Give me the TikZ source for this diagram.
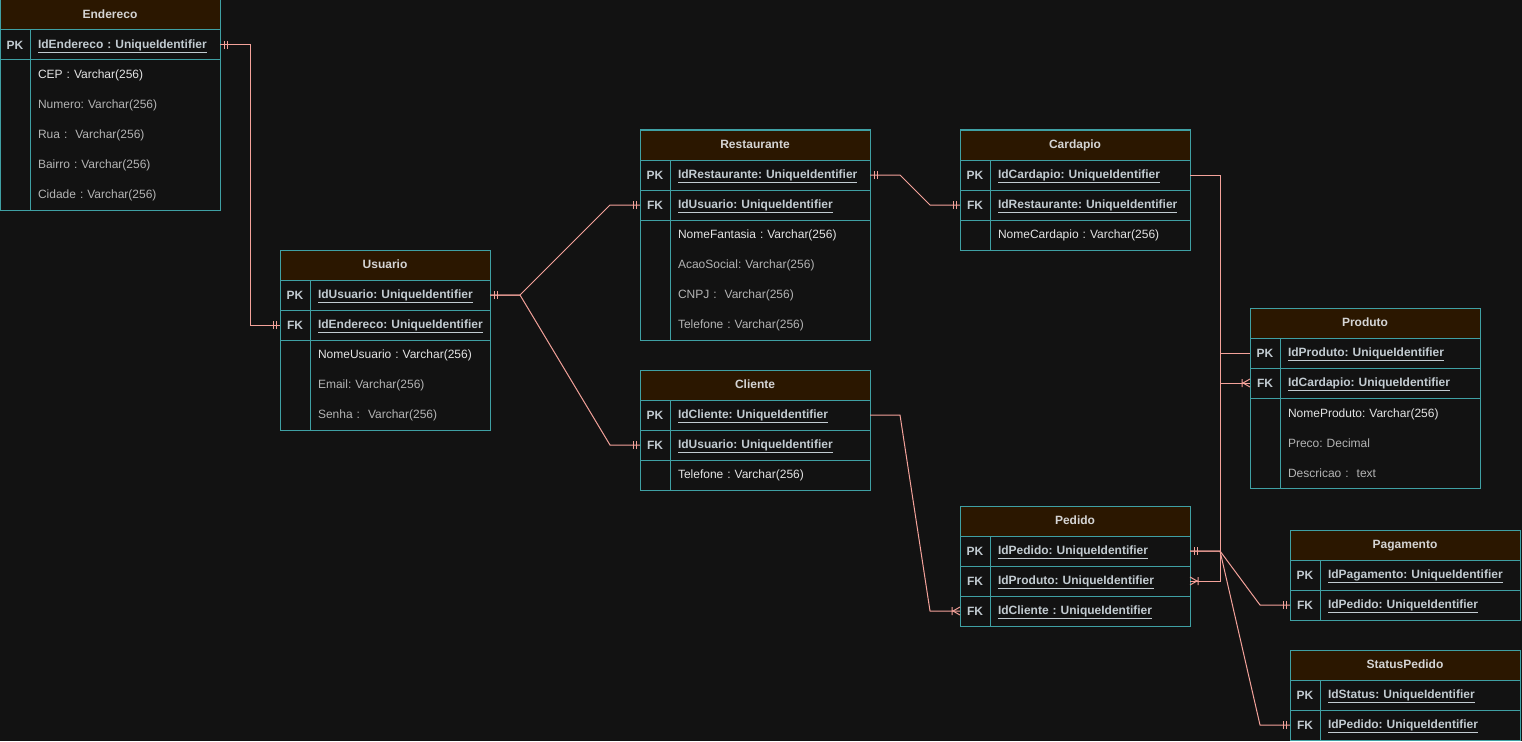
\documentclass[tikz,border=0pt,12pt]{standalone}
\usepackage{fontspec}
\setmainfont{Liberation Sans}
\usetikzlibrary{positioning}
\frenchspacing

\definecolor{bg}{HTML}{121212}
\definecolor{tableline}{HTML}{3FA0A4}
\definecolor{headfill}{HTML}{2B1700}
\definecolor{headtext}{HTML}{D4D4D4}
\definecolor{keytext}{HTML}{C2CBD1}
\definecolor{fieldtext}{HTML}{B4B4B4}
\definecolor{firsttext}{HTML}{E4E4E4}
\definecolor{relline}{HTML}{F4A29A}

% mandatory one: two bars
\pgfdeclarearrow{
  name = ERone,
  setup code = {
    \pgfarrowssettipend{0pt}
    \pgfarrowssetlineend{0pt}
    \pgfarrowssetbackend{-8pt}
  },
  drawing code = {
    \pgfpathmoveto{\pgfpoint{-4pt}{-4pt}}
    \pgfpathlineto{\pgfpoint{-4pt}{4pt}}
    \pgfpathmoveto{\pgfpoint{-7pt}{-4pt}}
    \pgfpathlineto{\pgfpoint{-7pt}{4pt}}
    \pgfusepathqstroke
  }
}
% one or many: bar and crow's foot
\pgfdeclarearrow{
  name = ERmany,
  setup code = {
    \pgfarrowssettipend{0pt}
    \pgfarrowssetlineend{0pt}
    \pgfarrowssetbackend{-9pt}
  },
  drawing code = {
    \pgfpathmoveto{\pgfpoint{-8pt}{-4pt}}
    \pgfpathlineto{\pgfpoint{-8pt}{4pt}}
    \pgfpathmoveto{\pgfpoint{0pt}{4pt}}
    \pgfpathlineto{\pgfpoint{-7pt}{0pt}}
    \pgfpathlineto{\pgfpoint{0pt}{-4pt}}
    \pgfusepathqstroke
  }
}

\begin{document}
\begin{tikzpicture}[x = 1pt, y = -1pt, line width = 1pt, node distance = 0pt,
    every node/.style = {draw = tableline, inner sep = 0pt, outer sep = 0pt, minimum height = 30pt},
    tablehead/.style = {anchor = north west, fill = headfill, text = headtext, font = \bfseries, text height = 9pt, text depth = 2pt},
    keycell/.style = {minimum width = 30pt, text = keytext, font = \bfseries},
    fieldcell/.style = {inner xsep = 8pt, text width = #1, align = left, text = fieldtext},
    keyfield/.style = {fieldcell = #1, text = keytext, font = \bfseries, text height = 9pt, text depth = 2pt},
    bodycell/.style = {fieldcell = #1, font = \fontsize{12}{30}\selectfont},
    relation/.style = {draw = relline}]
    \useasboundingbox[fill = bg] (0,0) rectangle (1522,741);

    % Endereco
    \node[tablehead, minimum width = 220pt] (endereco) at (0,0) {Endereco};
    \node[keycell, below right = of endereco.south west] (endereco-pk) {PK};
    \node[keyfield = 174pt, right = of endereco-pk] (endereco-id) {\underline{IdEndereco : UniqueIdentifier}};
    \node[keycell, minimum height = 150pt, below = of endereco-pk] (endereco-bk) {};
    \node[bodycell = 174pt, minimum height = 150pt, right = of endereco-bk] (endereco-body)
        {\textcolor{firsttext}{CEP : Varchar(256)}\\Numero: Varchar(256)\\Rua :~ Varchar(256)\\Bairro : Varchar(256)\\Cidade : Varchar(256)};

    % Usuario
    \node[tablehead, minimum width = 210pt] (usuario) at (280,250) {Usuario};
    \node[keycell, below right = of usuario.south west] (usuario-pk) {PK};
    \node[keyfield = 164pt, right = of usuario-pk] (usuario-id) {\underline{IdUsuario: UniqueIdentifier}};
    \node[keycell, below = of usuario-pk] (usuario-fk) {FK};
    \node[keyfield = 164pt, right = of usuario-fk] (usuario-ref) {\underline{IdEndereco: UniqueIdentifier}};
    \node[keycell, minimum height = 90pt, below = of usuario-fk] (usuario-bk) {};
    \node[bodycell = 164pt, minimum height = 90pt, right = of usuario-bk] (usuario-body)
        {\textcolor{firsttext}{NomeUsuario : Varchar(256)}\\Email: Varchar(256)\\Senha :~ Varchar(256)};

    % Restaurante
    \node[tablehead, minimum width = 230pt] (restaurante) at (640,130) {Restaurante};
    \node[keycell, below right = of restaurante.south west] (restaurante-pk) {PK};
    \node[keyfield = 184pt, right = of restaurante-pk] (restaurante-id) {\underline{IdRestaurante: UniqueIdentifier}};
    \node[keycell, below = of restaurante-pk] (restaurante-fk) {FK};
    \node[keyfield = 184pt, right = of restaurante-fk] (restaurante-ref) {\underline{IdUsuario: UniqueIdentifier}};
    \node[keycell, minimum height = 120pt, below = of restaurante-fk] (restaurante-bk) {};
    \node[bodycell = 184pt, minimum height = 120pt, right = of restaurante-bk] (restaurante-body)
        {\textcolor{firsttext}{NomeFantasia : Varchar(256)}\\AcaoSocial: Varchar(256)\\CNPJ :~ Varchar(256)\\Telefone : Varchar(256)};

    % Cardapio
    \node[tablehead, minimum width = 230pt] (cardapio) at (960,130) {Cardapio};
    \node[keycell, below right = of cardapio.south west] (cardapio-pk) {PK};
    \node[keyfield = 184pt, right = of cardapio-pk] (cardapio-id) {\underline{IdCardapio: UniqueIdentifier}};
    \node[keycell, below = of cardapio-pk] (cardapio-fk) {FK};
    \node[keyfield = 184pt, right = of cardapio-fk] (cardapio-ref) {\underline{IdRestaurante: UniqueIdentifier}};
    \node[keycell, below = of cardapio-fk] (cardapio-bk) {};
    \node[bodycell = 184pt, right = of cardapio-bk] (cardapio-body) {\textcolor{firsttext}{NomeCardapio : Varchar(256)}};

    % Cliente
    \node[tablehead, minimum width = 230pt] (cliente) at (640,370) {Cliente};
    \node[keycell, below right = of cliente.south west] (cliente-pk) {PK};
    \node[keyfield = 184pt, right = of cliente-pk] (cliente-id) {\underline{IdCliente: UniqueIdentifier}};
    \node[keycell, below = of cliente-pk] (cliente-fk) {FK};
    \node[keyfield = 184pt, right = of cliente-fk] (cliente-ref) {\underline{IdUsuario: UniqueIdentifier}};
    \node[keycell, below = of cliente-fk] (cliente-bk) {};
    \node[bodycell = 184pt, right = of cliente-bk] (cliente-body) {\textcolor{firsttext}{Telefone : Varchar(256)}};

    % Produto
    \node[tablehead, minimum width = 230pt] (produto) at (1250,308) {Produto};
    \node[keycell, below right = of produto.south west] (produto-pk) {PK};
    \node[keyfield = 184pt, right = of produto-pk] (produto-id) {\underline{IdProduto: UniqueIdentifier}};
    \node[keycell, below = of produto-pk] (produto-fk) {FK};
    \node[keyfield = 184pt, right = of produto-fk] (produto-ref) {\underline{IdCardapio: UniqueIdentifier}};
    \node[keycell, minimum height = 90pt, below = of produto-fk] (produto-bk) {};
    \node[bodycell = 184pt, minimum height = 90pt, right = of produto-bk] (produto-body)
        {\textcolor{firsttext}{NomeProduto: Varchar(256)}\\Preco: Decimal\\Descricao :~ text};

    % Pedido
    \node[tablehead, minimum width = 230pt] (pedido) at (960,506) {Pedido};
    \node[keycell, below right = of pedido.south west] (pedido-pk) {PK};
    \node[keyfield = 184pt, right = of pedido-pk] (pedido-id) {\underline{IdPedido: UniqueIdentifier}};
    \node[keycell, below = of pedido-pk] (pedido-fk1) {FK};
    \node[keyfield = 184pt, right = of pedido-fk1] (pedido-ref1) {\underline{IdProduto: UniqueIdentifier}};
    \node[keycell, below = of pedido-fk1] (pedido-fk2) {FK};
    \node[keyfield = 184pt, right = of pedido-fk2] (pedido-ref2) {\underline{IdCliente : UniqueIdentifier}};

    % Pagamento
    \node[tablehead, minimum width = 230pt] (pagamento) at (1290,530) {Pagamento};
    \node[keycell, below right = of pagamento.south west] (pagamento-pk) {PK};
    \node[keyfield = 184pt, right = of pagamento-pk] (pagamento-id) {\underline{IdPagamento: UniqueIdentifier}};
    \node[keycell, below = of pagamento-pk] (pagamento-fk) {FK};
    \node[keyfield = 184pt, right = of pagamento-fk] (pagamento-ref) {\underline{IdPedido: UniqueIdentifier}};

    % StatusPedido
    \node[tablehead, minimum width = 230pt] (status) at (1290,650) {StatusPedido};
    \node[keycell, below right = of status.south west] (status-pk) {PK};
    \node[keyfield = 184pt, right = of status-pk] (status-id) {\underline{IdStatus: UniqueIdentifier}};
    \node[keycell, below = of status-pk] (status-fk) {FK};
    \node[keyfield = 184pt, right = of status-fk] (status-ref) {\underline{IdPedido: UniqueIdentifier}};

    % relations
    \draw[relation, ERone-ERone] (endereco-id.east) -- ++(30,0) |- (usuario-fk.west);
    \draw[relation, ERone-ERone] (usuario-id.east) -- ++(30,0) -- ([xshift = -30pt]restaurante-fk.west) -- (restaurante-fk.west);
    \draw[relation, -ERone] (usuario-id.east) -- ++(30,0) -- ([xshift = -30pt]cliente-fk.west) -- (cliente-fk.west);
    \draw[relation, ERone-ERone] (restaurante-id.east) -- ++(30,0) -- ([xshift = -30pt]cardapio-fk.west) -- (cardapio-fk.west);
    \draw[relation, -ERmany] (cardapio-id.east) -- ++(30,0) |- (produto-fk.west);
    \draw[relation, -ERmany] (produto-pk.west) -- ++(-30,0) |- (pedido-ref1.east);
    \draw[relation, -ERmany] (cliente-id.east) -- ++(30,0) -- ([xshift = -30pt]pedido-fk2.west) -- (pedido-fk2.west);
    \draw[relation, ERone-ERone] (pedido-id.east) -- ++(30,0) -- ([xshift = -30pt]pagamento-fk.west) -- (pagamento-fk.west);
    \draw[relation, -ERone] (pedido-id.east) -- ++(30,0) -- ([xshift = -30pt]status-fk.west) -- (status-fk.west);
\end{tikzpicture}
\end{document}
